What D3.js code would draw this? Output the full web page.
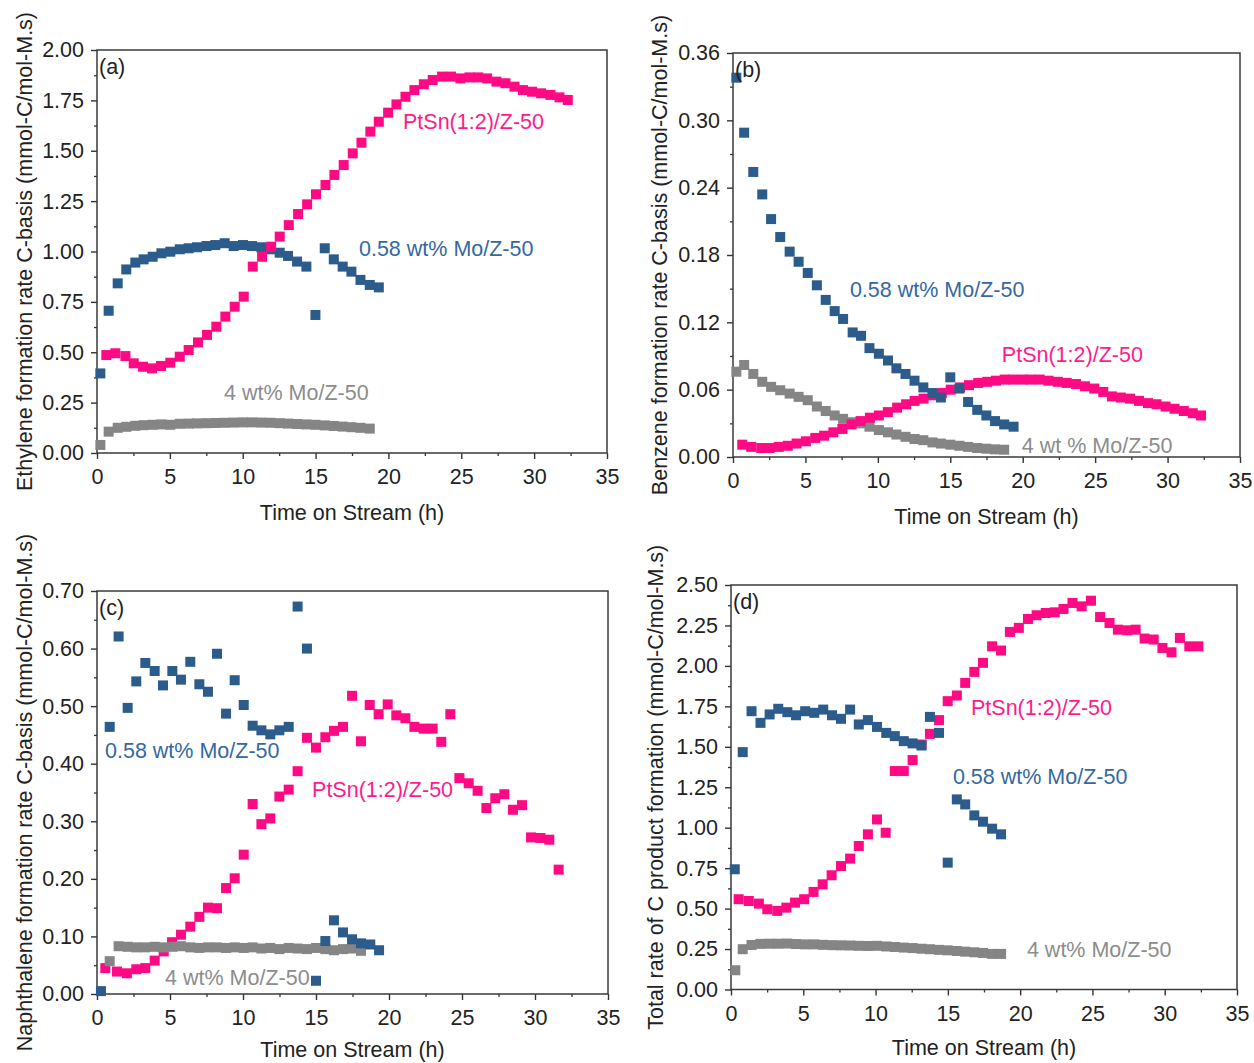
<!DOCTYPE html>
<html>
<head>
<meta charset="utf-8">
<script src="https://cdn.jsdelivr.net/npm/d3@7"></script>
<style>
  html, body { margin: 0; padding: 0; background: #fff; }
  svg { display: block; font-family: "Liberation Sans", Arial, sans-serif; }
</style>
</head>
<body>
<svg id="chart" width="1254" height="1063"></svg>
<script>
// ---------------- DATA ----------------
const seriesNames = ["PtSn(1:2)/Z-50", "0.58 wt% Mo/Z-50", "4 wt% Mo/Z-50"];
const grayNameB = "4 wt % Mo/Z-50";
const xTicks = [0, 5, 10, 15, 20, 25, 30, 35];
const xTitle = "Time on Stream (h)";
const yTitles = [
  "Ethylene formation rate C-basis (mmol-C/mol-M.s)",
  "Benzene formation rate C-basis (mmol-C/mol-M.s)",
  "Naphthalene formation rate C-basis (mmol-C/mol-M.s)",
  "Total rate of C product formation (mmol-C/mol-M.s)"
];
const panelLetters = ["(a)", "(b)", "(c)", "(d)"];
const yTicksA = [0, 0.25, 0.5, 0.75, 1.0, 1.25, 1.5, 1.75, 2.0];
const yTicksB = [0, 0.06, 0.12, 0.18, 0.24, 0.30, 0.36];
const yTicksC = [0, 0.1, 0.2, 0.3, 0.4, 0.5, 0.6, 0.7];
const yTicksD = [0, 0.25, 0.5, 0.75, 1.0, 1.25, 1.5, 1.75, 2.0, 2.25, 2.5];

// Panel (a) Ethylene
const tPtA = [0.64,1.26,1.95,2.52,3.16,3.78,4.39,5.03,5.68,6.29,6.93,7.55,8.19,8.81,9.45,10.07,10.69,11.33,11.95,12.54,13.16,13.80,14.42,15.03,15.68,16.29,16.93,17.55,18.15,18.76,19.34,19.98,20.55,21.17,21.78,22.43,23.04,23.68,24.30,24.94,25.56,26.16,26.77,27.41,28.03,28.65,29.24,29.86,30.48,31.12,31.74,32.31];
const vPtA = [0.486,0.495,0.481,0.445,0.428,0.420,0.432,0.448,0.478,0.511,0.549,0.586,0.627,0.677,0.726,0.776,0.925,0.974,1.024,1.074,1.131,1.186,1.234,1.284,1.330,1.380,1.429,1.487,1.540,1.595,1.644,1.689,1.730,1.768,1.801,1.830,1.851,1.868,1.868,1.859,1.864,1.864,1.859,1.843,1.835,1.818,1.801,1.793,1.785,1.777,1.765,1.752];
const tMoA = [0.23,0.80,1.42,2.01,2.63,3.20,3.82,4.42,5.03,5.68,6.29,6.86,7.51,8.12,8.76,9.38,10.02,10.64,11.28,11.90,12.54,13.11,13.73,14.37,14.99,15.63,16.25,16.86,17.46,18.08,18.72,19.34];
const vMoA = [0.395,0.706,0.842,0.911,0.945,0.961,0.974,0.991,0.999,1.011,1.016,1.021,1.027,1.032,1.041,1.027,1.032,1.027,1.021,1.011,0.994,0.978,0.950,0.925,0.685,1.016,0.961,0.925,0.900,0.859,0.834,0.822];
const tMo4A = [0.23,0.80,1.42,2.01,2.63,3.20,3.82,4.42,5.03,5.68,6.29,6.86,7.51,8.12,8.76,9.38,10.02,10.64,11.28,11.90,12.54,13.11,13.73,14.37,14.99,15.63,16.25,16.86,17.46,18.08,18.72];
const vMo4A = [0.040,0.106,0.125,0.130,0.135,0.138,0.140,0.142,0.140,0.145,0.146,0.147,0.148,0.149,0.150,0.151,0.152,0.152,0.151,0.150,0.148,0.146,0.144,0.142,0.140,0.137,0.134,0.131,0.128,0.125,0.121];

// Panel (b) Benzene
const tPtB = [0.64,1.26,1.95,2.52,3.16,3.78,4.39,5.03,5.68,6.29,6.93,7.55,8.19,8.81,9.45,10.07,10.69,11.33,11.95,12.54,13.16,13.80,14.42,15.03,15.68,16.29,16.93,17.55,18.15,18.76,19.34,19.98,20.55,21.17,21.78,22.43,23.04,23.68,24.30,24.94,25.56,26.16,26.77,27.41,28.03,28.65,29.24,29.86,30.48,31.12,31.74,32.31];
const vPtB = [0.011,0.009,0.008,0.008,0.009,0.010,0.012,0.014,0.017,0.019,0.022,0.025,0.029,0.032,0.035,0.037,0.040,0.044,0.047,0.050,0.052,0.055,0.057,0.060,0.062,0.064,0.066,0.067,0.068,0.069,0.069,0.069,0.069,0.069,0.068,0.067,0.066,0.065,0.063,0.061,0.058,0.054,0.053,0.052,0.050,0.048,0.047,0.045,0.043,0.041,0.039,0.037];
const tMoB = [0.23,0.77,1.40,2.02,2.63,3.26,3.91,4.53,5.16,5.79,6.40,7.02,7.60,8.26,8.84,9.42,10.07,10.70,11.28,11.91,12.53,13.14,13.77,14.35,15.00,15.63,16.23,16.86,17.49,18.09,18.72,19.37];
const vMoB = [0.338,0.289,0.254,0.234,0.212,0.196,0.183,0.174,0.164,0.153,0.140,0.130,0.123,0.111,0.108,0.097,0.092,0.086,0.079,0.074,0.068,0.062,0.057,0.053,0.071,0.061,0.049,0.042,0.037,0.032,0.029,0.027];
const tMo4B = [0.23,0.77,1.40,2.02,2.63,3.26,3.91,4.53,5.16,5.79,6.40,7.02,7.60,8.26,8.84,9.42,10.07,10.70,11.28,11.91,12.53,13.14,13.77,14.35,15.00,15.63,16.23,16.86,17.49,18.09,18.72];
const vMo4B = [0.076,0.082,0.074,0.067,0.0625,0.0595,0.0565,0.0536,0.0506,0.045,0.041,0.037,0.034,0.031,0.030,0.027,0.024,0.022,0.020,0.018,0.016,0.015,0.013,0.012,0.011,0.010,0.009,0.008,0.0074,0.0068,0.0065];

// Panel (c) Naphthalene
const tPtC = [0.57,1.37,2.05,2.69,3.31,3.95,4.57,5.14,5.75,6.39,7.01,7.60,8.22,8.84,9.43,10.05,10.66,11.26,11.87,12.49,13.13,13.74,14.38,15.00,15.64,16.23,16.85,17.47,18.08,18.68,19.29,19.91,20.50,21.12,21.74,22.37,22.99,23.58,24.20,24.82,25.46,26.07,26.67,27.28,27.90,28.49,29.11,29.73,30.37,30.98,31.62];
const vPtC = [0.045,0.039,0.036,0.043,0.045,0.058,0.074,0.090,0.103,0.117,0.134,0.150,0.149,0.184,0.201,0.242,0.330,0.295,0.305,0.343,0.355,0.387,0.445,0.428,0.446,0.457,0.464,0.518,0.439,0.502,0.486,0.503,0.484,0.479,0.464,0.461,0.461,0.438,0.486,0.375,0.366,0.353,0.323,0.340,0.347,0.320,0.328,0.272,0.271,0.268,0.216];
const tMoC = [0.27,0.87,1.48,2.10,2.69,3.31,3.95,4.52,5.16,5.75,6.39,7.01,7.60,8.22,8.84,9.43,10.05,10.66,11.26,11.87,12.49,13.13,13.74,14.38,15.00,15.64,16.23,16.85,17.47,18.08,18.72,19.32];
const vMoC = [0.005,0.464,0.621,0.497,0.543,0.575,0.561,0.536,0.561,0.546,0.577,0.538,0.525,0.591,0.487,0.545,0.502,0.466,0.458,0.451,0.458,0.464,0.673,0.600,0.023,0.092,0.128,0.107,0.095,0.088,0.086,0.076];
const tMo4C = [0.87,1.48,2.10,2.69,3.31,3.95,4.52,5.16,5.75,6.39,7.01,7.60,8.22,8.84,9.43,10.05,10.66,11.26,11.87,12.49,13.13,13.74,14.38,15.00,15.64,16.23,16.85,17.47,18.08];
const vMo4C = [0.057,0.083,0.082,0.081,0.081,0.082,0.081,0.082,0.083,0.081,0.080,0.081,0.081,0.080,0.081,0.080,0.081,0.079,0.080,0.078,0.080,0.079,0.078,0.080,0.078,0.076,0.078,0.079,0.075];

// Panel (d) Total
const tPtD = [0.53,1.23,1.93,2.51,3.20,3.83,4.43,5.06,5.71,6.34,6.96,7.61,8.24,8.84,9.47,10.10,10.70,11.33,11.95,12.56,13.18,13.76,14.39,14.99,15.62,16.20,16.83,17.43,18.06,18.68,19.29,19.91,20.54,21.14,21.77,22.39,23.00,23.62,24.25,24.90,25.53,26.18,26.76,27.41,27.99,28.61,29.24,29.84,30.47,31.05,31.70,32.33];
const vPtD = [0.558,0.547,0.531,0.496,0.486,0.506,0.537,0.558,0.603,0.650,0.706,0.763,0.809,0.887,0.959,1.051,0.969,1.350,1.350,1.418,1.514,1.580,1.665,1.782,1.817,1.895,1.963,2.019,2.121,2.095,2.210,2.235,2.290,2.313,2.327,2.331,2.352,2.389,2.368,2.403,2.302,2.265,2.224,2.220,2.224,2.169,2.163,2.111,2.084,2.173,2.121,2.121];
const tMoD = [0.26,0.81,1.42,2.04,2.67,3.27,3.90,4.50,5.13,5.76,6.38,6.99,7.61,8.24,8.84,9.47,10.10,10.74,11.33,11.95,12.56,13.18,13.76,14.39,14.99,15.62,16.20,16.83,17.43,18.06,18.68];
const vMoD = [0.743,1.467,1.720,1.648,1.700,1.735,1.714,1.695,1.720,1.710,1.730,1.695,1.673,1.730,1.638,1.665,1.623,1.586,1.566,1.535,1.521,1.508,1.685,1.586,0.784,1.175,1.144,1.076,1.037,0.994,0.959];
const tMo4D = [0.30,0.81,1.42,2.04,2.67,3.27,3.90,4.50,5.13,5.76,6.38,6.99,7.61,8.24,8.84,9.47,10.10,10.74,11.33,11.95,12.56,13.18,13.76,14.39,14.99,15.62,16.20,16.83,17.43,18.06,18.68];
const vMo4D = [0.119,0.249,0.275,0.282,0.283,0.283,0.284,0.281,0.279,0.279,0.276,0.274,0.273,0.272,0.270,0.269,0.270,0.266,0.263,0.259,0.256,0.252,0.249,0.245,0.242,0.238,0.234,0.230,0.226,0.220,0.220];

// ---------------- LAYOUT / STYLE ----------------
const colors = { pt: "#ff0a84", mo: "#2b5c8c", mo4: "#858585" };
const labelColors = { pt: "#ff1a8c", mo: "#3568a0", mo4: "#8c8c8c" };
const MARK = 10;
const FONT = 21.5;

const zip = (t, v) => t.map((d, i) => ({ t: d, v: v[i] }));

const panels = [
  { box: [97, 607, 50, 453], yMax: 2.0, yTicks: yTicksA, yMinor: 0.125, title: yTitles[0], titleX: 25, xTitleOff: 67, letter: panelLetters[0],
    series: [ { key: "mo4", data: zip(tMo4A, vMo4A) }, { key: "mo", data: zip(tMoA, vMoA) }, { key: "pt", data: zip(tPtA, vPtA) } ],
    labels: [ { key: "pt", text: seriesNames[0], t: 21.0, v: 1.643 }, { key: "mo", text: seriesNames[1], t: 17.98, v: 1.012 }, { key: "mo4", text: seriesNames[2], t: 8.72, v: 0.298 } ] },
  { box: [733, 1240, 53, 457], yMax: 0.36, yTicks: yTicksB, yMinor: 0.03, title: yTitles[1], titleX: 660, xTitleOff: 67, letter: panelLetters[1],
    series: [ { key: "mo4", data: zip(tMo4B, vMo4B) }, { key: "pt", data: zip(tPtB, vPtB) }, { key: "mo", data: zip(tMoB, vMoB) } ],
    labels: [ { key: "mo", text: seriesNames[1], t: 8.07, v: 0.149 }, { key: "pt", text: seriesNames[0], t: 18.56, v: 0.0909 }, { key: "mo4", text: grayNameB, t: 19.94, v: 0.0098 } ] },
  { box: [97, 608, 591, 994], yMax: 0.70, yTicks: yTicksC, yMinor: 0.05, title: yTitles[2], titleX: 25, xTitleOff: 63, letter: panelLetters[2],
    series: [ { key: "pt", data: zip(tPtC, vPtC) }, { key: "mo4", data: zip(tMo4C, vMo4C) }, { key: "mo", data: zip(tMoC, vMoC) } ],
    labels: [ { key: "mo", text: seriesNames[1], t: 0.55, v: 0.422 }, { key: "pt", text: seriesNames[0], t: 14.73, v: 0.354 }, { key: "mo4", text: seriesNames[2], t: 4.66, v: 0.028 } ] },
  { box: [731, 1237, 585, 989.5], yMax: 2.5, yTicks: yTicksD, yMinor: 0.125, title: yTitles[3], titleX: 656, xTitleOff: 65, letter: panelLetters[3],
    series: [ { key: "mo4", data: zip(tMo4D, vMo4D) }, { key: "pt", data: zip(tPtD, vPtD) }, { key: "mo", data: zip(tMoD, vMoD) } ],
    labels: [ { key: "pt", text: seriesNames[0], t: 16.6, v: 1.742 }, { key: "mo", text: seriesNames[1], t: 15.35, v: 1.315 }, { key: "mo4", text: seriesNames[2], t: 20.47, v: 0.244 } ] }
];

const svg = d3.select("#chart");
const fmt = d3.format(".2f");

panels.forEach(p => {
  const [L, R, T, B] = p.box;
  const x = d3.scaleLinear().domain([0, 35]).range([L, R]);
  const y = d3.scaleLinear().domain([0, p.yMax]).range([B, T]);
  const g = svg.append("g");

  // minor ticks
  const xMinor = d3.range(2.5, 35, 5);
  g.append("g").attr("transform", `translate(0,${B})`)
    .call(d3.axisBottom(x).tickValues(xMinor).tickSize(3).tickFormat(""))
    .call(s => s.select(".domain").remove())
    .call(s => s.selectAll("line").attr("stroke", "#333").attr("stroke-width", 1.3));
  const yMin = d3.range(p.yMinor, p.yMax, p.yMinor * 2);
  g.append("g").attr("transform", `translate(${L},0)`)
    .call(d3.axisLeft(y).tickValues(yMin).tickSize(3).tickFormat(""))
    .call(s => s.select(".domain").remove())
    .call(s => s.selectAll("line").attr("stroke", "#333").attr("stroke-width", 1.3));

  // major axes
  g.append("g").attr("transform", `translate(0,${B})`)
    .call(d3.axisBottom(x).tickValues(xTicks).tickSize(6).tickPadding(10).tickFormat(d3.format("d")))
    .call(s => s.select(".domain").remove())
    .call(s => s.selectAll("line").attr("stroke", "#333").attr("stroke-width", 1.4))
    .call(s => s.selectAll("text").attr("font-size", FONT).attr("fill", "#222").attr("font-family", "Liberation Sans, Arial, sans-serif"));
  g.append("g").attr("transform", `translate(${L},0)`)
    .call(d3.axisLeft(y).tickValues(p.yTicks).tickSize(6).tickPadding(7).tickFormat(fmt))
    .call(s => s.select(".domain").remove())
    .call(s => s.selectAll("line").attr("stroke", "#333").attr("stroke-width", 1.4))
    .call(s => s.selectAll("text").attr("font-size", FONT).attr("fill", "#222").attr("font-family", "Liberation Sans, Arial, sans-serif"));

  // frame
  g.append("rect").attr("x", L).attr("y", T).attr("width", R - L).attr("height", B - T)
    .attr("fill", "none").attr("stroke", "#3a3a3a").attr("stroke-width", 1.5);

  // points
  p.series.forEach(s => {
    g.append("g").selectAll("rect").data(s.data).join("rect")
      .attr("x", d => x(d.t) - MARK / 2)
      .attr("y", d => y(d.v) - MARK / 2)
      .attr("width", MARK).attr("height", MARK)
      .attr("fill", colors[s.key]);
  });

  // labels
  p.labels.forEach(l => {
    g.append("text").attr("x", x(l.t)).attr("y", y(l.v))
      .attr("dominant-baseline", "central")
      .attr("font-size", FONT).attr("fill", labelColors[l.key]).text(l.text);
  });

  // panel letter
  g.append("text").attr("x", L + 2).attr("y", T + 17)
    .attr("dominant-baseline", "central").attr("font-size", FONT).attr("fill", "#222").text(p.letter);

  // axis titles
  g.append("text").attr("x", (L + R) / 2).attr("y", B + p.xTitleOff)
    .attr("text-anchor", "middle").attr("font-size", FONT).attr("fill", "#222").text(xTitle);
  g.append("text").attr("transform", `translate(${p.titleX},${(T + B) / 2}) rotate(-90)`)
    .attr("text-anchor", "middle").attr("dominant-baseline", "central")
    .attr("font-size", FONT).attr("fill", "#222").text(p.title);
});
</script>
</body>
</html>
